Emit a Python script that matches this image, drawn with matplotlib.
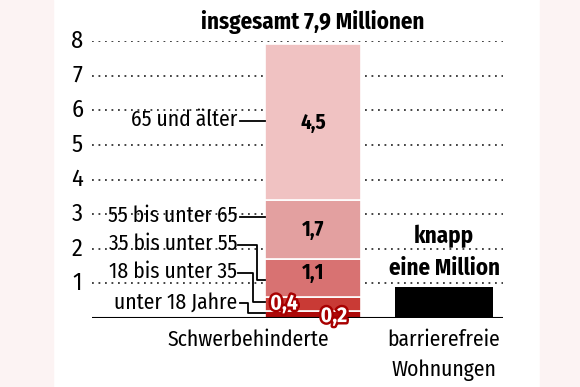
import matplotlib.pyplot as plt
import matplotlib.patheffects as pe
from matplotlib.patches import Rectangle

plt.rcParams['font.family'] = ['Fira Sans Condensed', 'DejaVu Sans']

# data
gruppen = ["unter 18 Jahre", "18 bis unter 35", "35 bis unter 55", "55 bis unter 65", "65 und älter"]
werte = [0.2, 0.4, 1.1, 1.7, 4.5]
wert_labels = ["0,2", "0,4", "1,1", "1,7", "4,5"]
farben = ["#ad0a0a", "#c93a35", "#d87272", "#e3a0a0", "#f0c2c2"]
wohnungen = 0.9
kategorien = ["Schwerbehinderte", "barrierefreie", "Wohnungen"]
yticks = [1, 2, 3, 4, 5, 6, 7, 8]

fig = plt.figure(figsize=(5.8, 3.87), dpi=100)
fig.patches.append(Rectangle((0, 0), 53 / 580, 1, transform=fig.transFigure,
                             color="#fcf3f3", zorder=-10))
fig.patches.append(Rectangle((540 / 580, 0), 40 / 580, 1, transform=fig.transFigure,
                             color="#fcf3f3", zorder=-10))

ax = fig.add_axes([92 / 580, 69 / 387, 411 / 580, 277 / 387])
ax.set_xlim(-1.687, 1.45)
ax.set_ylim(0, 8)
ax.axis("off")

# dotted grid
for t in yticks:
    ax.plot([-1.687, 1.45], [t, t], color="#333333", lw=1.3,
            linestyle=(0, (1, 2.6)), zorder=1)
    ax.text(-1.8, t, str(t), ha="center", va="center", fontsize=17.5)
ax.plot([-1.687, 1.45], [0, 0], color="black", lw=1.5, zorder=5)

# stacked bar
breite = 0.733
unten = 0
for w, f in zip(werte, farben):
    ax.bar(0, w, bottom=unten, width=breite, color=f, edgecolor="white",
           linewidth=1.2, zorder=3)
    unten += w

ax.bar(1, wohnungen, width=0.75, color="black", zorder=3)

# value labels
ax.text(0, 5.65, wert_labels[4], ha="center", va="center", fontsize=15, fontweight="bold", zorder=6)
ax.text(0, 2.55, wert_labels[3], ha="center", va="center", fontsize=15, fontweight="bold", zorder=6)
ax.text(0, 1.3, wert_labels[2], ha="center", va="center", fontsize=15, fontweight="bold", zorder=6)
stroke = [pe.withStroke(linewidth=3.5, foreground="#a80000")]
ax.text(-0.22, 0.42, wert_labels[1], ha="center", va="center", fontsize=15.5, fontweight="bold",
        color="white", path_effects=stroke, zorder=6)
ax.text(0.16, 0.06, wert_labels[0], ha="center", va="center", fontsize=15.5, fontweight="bold",
        color="white", path_effects=stroke, zorder=6)


# group labels with connectors
def px(x):
    return (x - 313) / 131


def py(y):
    return (318 - y) / 34.6


lab_y = [302, 272, 244, 216, 120]
wege = [
    [(240, 303), (248, 303), (248, 313), (265, 313)],
    [(238, 273), (253, 273), (253, 302), (265, 302)],
    [(238, 245), (257, 245), (257, 280), (265, 280)],
    [(240, 217), (265, 217)],
    [(240, 121), (265, 121)],
]
for g, ly, weg in zip(gruppen, lab_y, wege):
    ax.text(px(237), py(ly), g, ha="right", va="center", fontsize=15.5, zorder=4)
    ax.plot([px(a) for a, b in weg], [py(b) for a, b in weg], color="black",
            lw=1.3, zorder=4, clip_on=False)

# title and annotations
ax.text(0, py(22), "insgesamt 7,9 Millionen", ha="center", va="center",
        fontsize=16.5, fontweight="bold")
ax.text(1, py(236), "knapp", ha="center", va="center", fontsize=16.5, fontweight="bold")
ax.text(1, py(268), "eine Million", ha="center", va="center", fontsize=16.5, fontweight="bold")

ax.text(px(248), py(340), kategorien[0], ha="center", va="center", fontsize=15.5)
ax.text(1, py(340), kategorien[1], ha="center", va="center", fontsize=15.5)
ax.text(1, py(370), kategorien[2], ha="center", va="center", fontsize=15.5)

fig.savefig("out.png", dpi=100)
